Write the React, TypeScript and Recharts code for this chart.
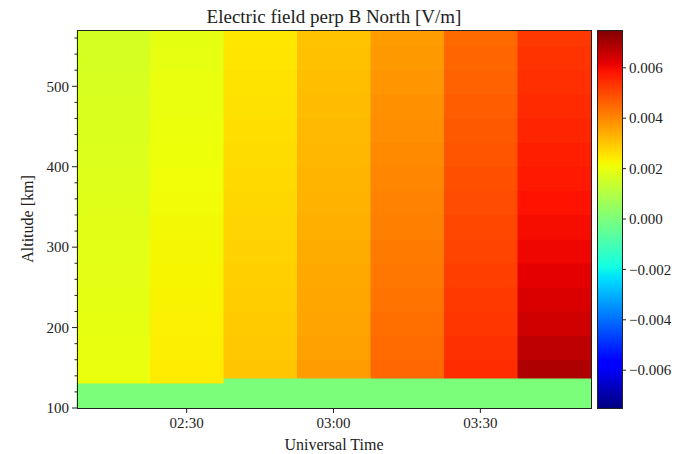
import React from 'react'
import { ComposedChart, XAxis, YAxis, ReferenceArea } from 'recharts'

// time bins, minutes after 00:00 UT
const TIME_EDGES = [127.6, 142.6, 157.6, 172.6, 187.6, 202.6, 217.6, 232.6]
const TIME_TICKS = [150, 180, 210]

// altitude bin edges in km (first bin starts at each column's floor)
const ALT_EDGES = [137, 160, 190, 220, 250, 280, 310, 340, 370, 400, 430, 460, 490, 520, 550, 570]
const ALT_TICKS = [100, 120, 140, 160, 180, 200, 220, 240, 260, 280, 300, 320, 340, 360, 380, 400, 420, 440, 460, 480, 500, 520, 540, 560]
const COLUMN_FLOOR = [131, 131, 137, 137, 137, 137, 137]

// E field perp B north [V/m], bottom -> top
const E_COL1 = [0.002, 0.00198, 0.00195, 0.00193, 0.0019, 0.00188, 0.00185, 0.00182, 0.00179, 0.00176, 0.00173, 0.0017, 0.00167, 0.00164, 0.00161]
const E_COL2 = [0.0024, 0.00236, 0.00233, 0.00229, 0.00226, 0.00222, 0.00219, 0.00215, 0.00212, 0.00208, 0.00205, 0.00202, 0.00199, 0.00196, 0.00193]
const E_COL3 = [0.00302, 0.00298, 0.00294, 0.0029, 0.00286, 0.00282, 0.00278, 0.00274, 0.0027, 0.00266, 0.00262, 0.00258, 0.00254, 0.0025, 0.00246]
const E_COL4 = [0.00365, 0.0036, 0.00355, 0.0035, 0.00346, 0.00342, 0.00337, 0.00333, 0.00329, 0.00325, 0.00321, 0.00317, 0.00313, 0.00309, 0.00305]
const E_COL5 = [0.00452, 0.00445, 0.00438, 0.00432, 0.00426, 0.0042, 0.00414, 0.00408, 0.00402, 0.00396, 0.0039, 0.00384, 0.00378, 0.00372, 0.00366]
const E_COL6 = [0.00545, 0.00538, 0.0053, 0.00523, 0.00516, 0.00509, 0.00502, 0.00495, 0.00488, 0.00481, 0.00474, 0.00467, 0.0046, 0.00453, 0.00446]
const E_COL7 = [0.0069, 0.0067, 0.00648, 0.00632, 0.00618, 0.00605, 0.00595, 0.00585, 0.00575, 0.00565, 0.00557, 0.00549, 0.00541, 0.00534, 0.00527]
const COLUMNS = [E_COL1, E_COL2, E_COL3, E_COL4, E_COL5, E_COL6, E_COL7]
const BELOW_FLOOR = 0

const CBAR_TICKS = [-0.006, -0.004, -0.002, 0, 0.002, 0.004, 0.006]
const V_LIM = 0.0075

const FONT = "'Liberation Serif', 'DejaVu Serif', serif"
const INK = '#222'
const tickText = { fontFamily: FONT, fontSize: 15 }

// matplotlib jet
const JET_R = [[0, 0], [0.35, 0], [0.66, 1], [0.89, 1], [1, 0.5]]
const JET_G = [[0, 0], [0.125, 0], [0.375, 1], [0.64, 1], [0.91, 0], [1, 0]]
const JET_B = [[0, 0.5], [0.11, 1], [0.34, 1], [0.65, 0], [1, 0]]
const JET_BREAKS = [0, 0.11, 0.125, 0.34, 0.35, 0.375, 0.64, 0.65, 0.66, 0.89, 0.91, 1]

function interp(pts: number[][], t: number) {
  for (let i = 1; i < pts.length; i++) {
    if (t <= pts[i][0]) {
      const [t0, v0] = pts[i - 1]
      const [t1, v1] = pts[i]
      return v0 + ((t - t0) / (t1 - t0)) * (v1 - v0)
    }
  }
  return pts[pts.length - 1][1]
}

function jet(t: number) {
  const c = Math.max(0, Math.min(1, t))
  const r = Math.round(interp(JET_R, c) * 255)
  const g = Math.round(interp(JET_G, c) * 255)
  const b = Math.round(interp(JET_B, c) * 255)
  return `rgb(${r},${g},${b})`
}

const colorOf = (v: number) => jet((v + V_LIM) / (2 * V_LIM))

const hhmm = (m: number) => {
  const h = Math.floor(m / 60)
  const mm = m % 60
  return `${String(h).padStart(2, '0')}:${String(mm).padStart(2, '0')}`
}

const cbarLabel = (v: number) => (v < 0 ? '\u2212' : '') + Math.abs(v).toFixed(3)

const AltTick = (props: any) => {
  const { x, y, payload } = props
  const major = payload.value % 100 === 0
  return (
    <g>
      <line x1={x} x2={x - (major ? 5 : 2.5)} y1={y} y2={y} stroke={INK} />
      {major && (
        <text x={x - 8} y={y} dy="0.35em" textAnchor="end" style={tickText} fill={INK}>
          {payload.value}
        </text>
      )}
    </g>
  )
}

const TimeTick = (props: any) => {
  const { x, y, payload } = props
  return (
    <g>
      <line x1={x} x2={x} y1={y} y2={y + 5} stroke={INK} />
      <text x={x} y={y + 20} textAnchor="middle" style={tickText} fill={INK}>
        {hhmm(payload.value)}
      </text>
    </g>
  )
}

const CbarTick = (props: any) => {
  const { x, y, payload } = props
  return (
    <g>
      <line x1={x} x2={x + 4} y1={y} y2={y} stroke={INK} />
      <text x={x + 7} y={y} dy="0.35em" textAnchor="start" style={tickText} fill={INK}>
        {cbarLabel(payload.value)}
      </text>
    </g>
  )
}

export default function App() {
  const cells: any[] = []
  COLUMNS.forEach((col, c) => {
    const x1 = TIME_EDGES[c]
    const x2 = TIME_EDGES[c + 1]
    cells.push({ key: `g${c}`, x1, x2, y1: 100, y2: COLUMN_FLOOR[c], v: BELOW_FLOOR })
    col.forEach((v, i) => {
      cells.push({
        key: `c${c}-${i}`,
        x1,
        x2,
        y1: i === 0 ? COLUMN_FLOOR[c] : ALT_EDGES[i],
        y2: ALT_EDGES[i + 1],
        v,
      })
    })
  })

  const frameData = TIME_EDGES.map((t) => ({ t }))
  const stops = [...JET_BREAKS].reverse()

  return (
    <div style={{ position: 'absolute', left: 0, top: 0, width: 679, height: 454, background: '#fff', fontFamily: FONT, color: INK }}>
      <style>{`.hm path { shape-rendering: crispEdges; } .hm text { font-family: ${FONT}; }`}</style>
      <div style={{ position: 'absolute', left: 77, width: 514, top: 6, textAlign: 'center', fontSize: 19, whiteSpace: 'nowrap' }}>
        Electric field perp B North [V/m]
      </div>
      <div className="hm" style={{ position: 'absolute', left: 0, top: 0 }}>
        <ComposedChart width={679} height={454} data={frameData} margin={{ top: 30, right: 88, bottom: 16, left: 27 }}>
          <XAxis
            dataKey="t"
            type="number"
            domain={[TIME_EDGES[0], TIME_EDGES[TIME_EDGES.length - 1]]}
            ticks={TIME_TICKS}
            allowDataOverflow
            height={30}
            tickSize={0}
            tickMargin={0}
            tickLine={false}
            axisLine={false}
            tick={<TimeTick />}
            interval={0}
          />
          <YAxis
            type="number"
            domain={[100, 570]}
            ticks={ALT_TICKS}
            allowDataOverflow
            width={50}
            tickSize={0}
            tickMargin={0}
            tickLine={false}
            axisLine={false}
            tick={<AltTick />}
            interval={0}
          />
          {cells.map((cell) => (
            <ReferenceArea
              key={cell.key}
              x1={cell.x1}
              x2={cell.x2}
              y1={cell.y1}
              y2={cell.y2}
              fill={colorOf(cell.v)}
              fillOpacity={1}
              stroke={colorOf(cell.v)}
              strokeWidth={0.5}
              ifOverflow="extendDomain"
            />
          ))}
          <ReferenceArea
            x1={TIME_EDGES[0]}
            x2={TIME_EDGES[TIME_EDGES.length - 1]}
            y1={100}
            y2={570}
            fill="none"
            fillOpacity={0}
            stroke={INK}
            strokeWidth={1}
          />
        </ComposedChart>
      </div>
      <div className="hm" style={{ position: 'absolute', left: 597, top: 0 }}>
        <ComposedChart width={82} height={454} data={[{ x: 0 }, { x: 1 }]} margin={{ top: 30, right: 0, bottom: 46, left: 0 }}>
          <defs>
            <linearGradient id="jetBar" x1="0" y1="0" x2="0" y2="1">
              {stops.map((t) => (
                <stop key={t} offset={`${(1 - t) * 100}%`} stopColor={jet(t)} />
              ))}
            </linearGradient>
          </defs>
          <XAxis dataKey="x" type="number" domain={[0, 1]} hide />
          <YAxis
            orientation="right"
            type="number"
            domain={[-V_LIM, V_LIM]}
            ticks={CBAR_TICKS}
            allowDataOverflow
            width={57}
            tickSize={0}
            tickMargin={0}
            tickLine={false}
            axisLine={false}
            tick={<CbarTick />}
            interval={0}
          />
          <ReferenceArea x1={0} x2={1} y1={-V_LIM} y2={V_LIM} fill="url(#jetBar)" fillOpacity={1} stroke={INK} strokeWidth={1} />
        </ComposedChart>
      </div>
      <div style={{ position: 'absolute', left: 334, top: 445, transform: 'translate(-50%, -50%)', fontSize: 16, whiteSpace: 'nowrap' }}>
        Universal Time
      </div>
      <div style={{ position: 'absolute', left: 28, top: 219, transform: 'translate(-50%, -50%) rotate(-90deg)', fontSize: 16, whiteSpace: 'nowrap' }}>
        Altitude [km]
      </div>
    </div>
  )
}
